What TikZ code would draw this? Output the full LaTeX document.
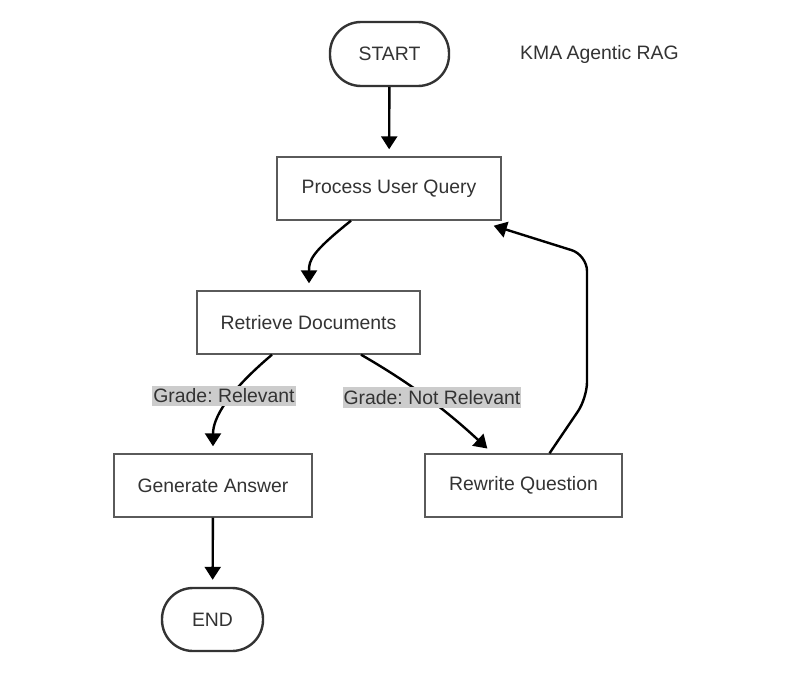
\documentclass[tikz,border=0pt]{standalone}
\usepackage{fontspec}
\setmainfont{Liberation Sans}
\usetikzlibrary{arrows.meta}
\definecolor{txt}{HTML}{333333}
\definecolor{bord}{HTML}{5A5A5A}
\definecolor{labbg}{HTML}{CCCCCC}
\begin{document}
\frenchspacing
\begin{tikzpicture}[x=1pt,y=-1pt,
  every node/.style={font=\fontsize{19.4}{23}\selectfont\frenchspacing, text=txt},
  box/.style={draw=bord, line width=1.4pt, fill=white, minimum height=63pt},
  term/.style={draw=txt, line width=2.4pt, fill=white, rounded corners=31pt, minimum width=119pt, minimum height=64pt},
  lab/.style={fill=labbg, inner xsep=1pt, inner ysep=3pt},
  arr/.style={line width=2.4pt, black, -{Triangle[length=13pt,width=16pt]}, shorten >=7pt},
  arrn/.style={line width=2.4pt, black, -{Triangle[length=13pt,width=16pt]}}]
\useasboundingbox (0,0) rectangle (798,677);
\node[term] (start) at (389.5,54) {START};
\node (ttl) at (599.5,54) {KMA\kern-1pt{} Agentic RAG};
\node[box, minimum width=224pt] (proc) at (389,188.5) {\raisebox{-1.5pt}{Process User Query}};
\node[box, minimum width=223pt] (ret) at (308.5,322.5) {Retrieve Documents};
\node[box, minimum width=198pt] (gen) at (213,485.5) {Generate Answer};
\node[box, minimum width=197pt] (rew) at (523.5,485.5) {\raisebox{-1pt}{Rewrite Question}};
\node[term, minimum width=101pt, minimum height=63pt] (end) at (212.5,619.5) {END};

\draw[arr] (start) -- (proc);
\draw[arr] ([xshift=-38pt]proc.south) .. controls +(-40,32) and +(0,-30) .. ([xshift=0.5pt]ret.north);
\draw[arr] ([xshift=-36.5pt]ret.south) .. controls +(-45,38) and +(0,-35) .. (gen.north);
\draw[arr] ([xshift=52.5pt]ret.south) .. controls +(54,31) and +(-42,-39) .. ([xshift=-31pt]rew.north);
\draw[arrn, rounded corners=16pt] ([xshift=26pt]rew.north) -- (587,398) -- (587,255) -- ([shift={(-8,5)}]proc.south east);
\draw[arr] (gen) -- (end);

\node[lab] (l1) at (224,396) {Grade: Relevant};
\node[lab] (l2) at (432,397.5) {Grade: Not Relevant};
\end{tikzpicture}
\end{document}
